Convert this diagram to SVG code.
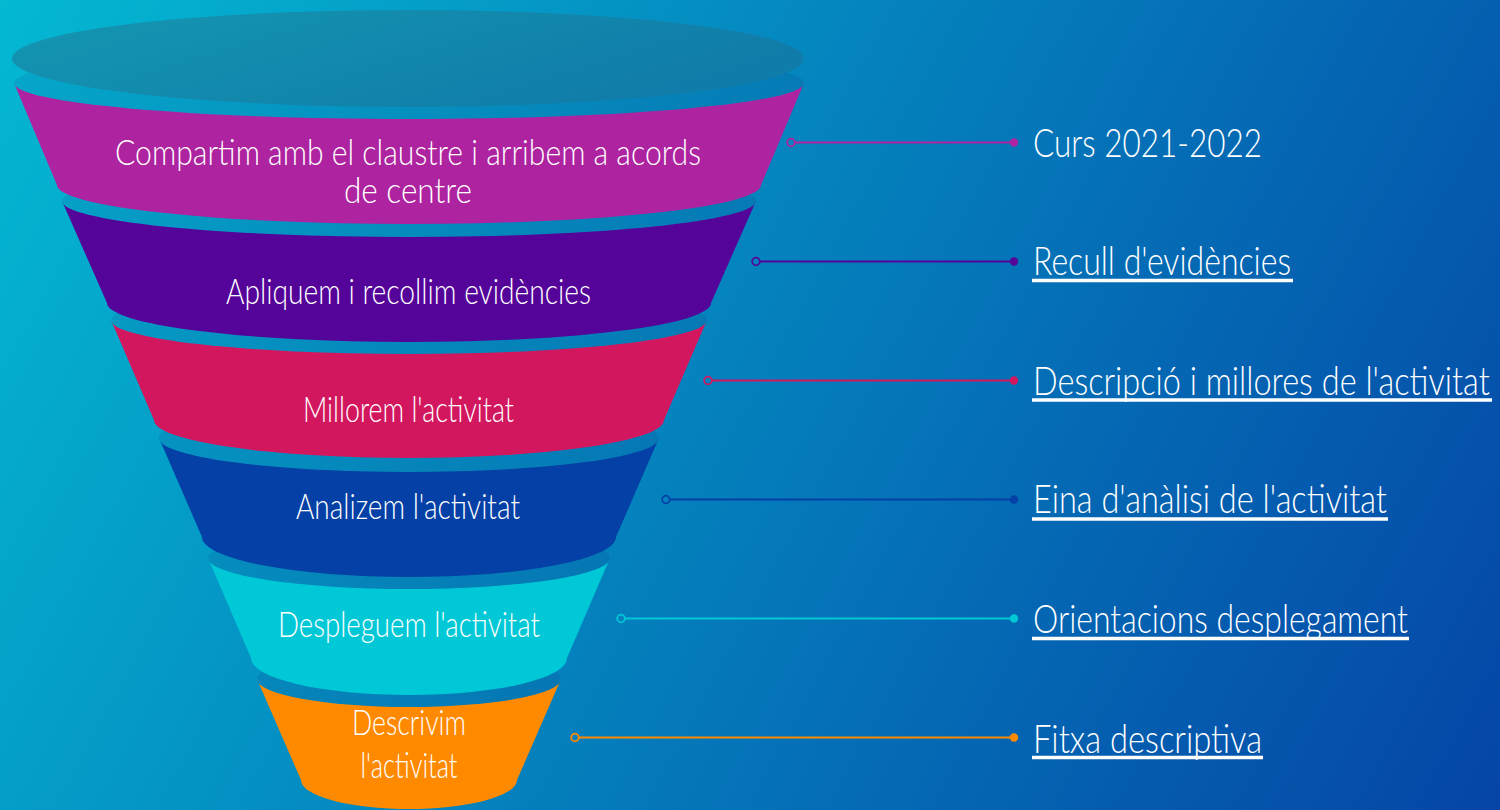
<svg xmlns="http://www.w3.org/2000/svg" width="1500" height="810" viewBox="0 0 1500 810">
  <defs>
    <linearGradient id="bg" gradientUnits="userSpaceOnUse" x1="0" y1="0" x2="1500" y2="810">
      <stop offset="0" stop-color="#04b8d2"/>
      <stop offset="1" stop-color="#0545a6"/>
    </linearGradient>
    <linearGradient id="rim" gradientUnits="userSpaceOnUse" x1="0" y1="0" x2="1500" y2="810">
      <stop offset="0" stop-color="#05a9cb"/>
      <stop offset="1" stop-color="#063f9a"/>
    </linearGradient>
    <linearGradient id="topEll" x1="0" y1="0" x2="1" y2="0.4">
      <stop offset="0" stop-color="#1497b1"/>
      <stop offset="1" stop-color="#107ca9"/>
    </linearGradient>
    <style>
      .rim { fill: url(#rim); }
      .ftxt { font-family: Lato, "Liberation Sans", sans-serif; font-weight: 300; font-size: 35px; fill: #ffffff; text-anchor: middle; }
      .rtxt { font-family: Lato, "Liberation Sans", sans-serif; font-weight: 300; font-size: 40px; fill: #ffffff; }
      .ul { stroke: #ffffff; stroke-width: 3.5; }
      .conn line { stroke-width: 2.2; }
      .open { fill: none; stroke-width: 1.8; }
    </style>
  </defs>

  <rect x="0" y="0" width="1500" height="810" fill="url(#bg)"/>

  <!-- funnel, drawn from bottom to top so upper bands overlap lower rims -->
  <g id="band6">
    <path d="M257,679 L561,679 L517,780 A108,29 0 0 1 301,780 Z" fill="#ff8a00"/>
    <ellipse class="rim" cx="409" cy="679" rx="152" ry="28"/>
    <text class="ftxt" x="409" y="735" textLength="114" lengthAdjust="spacingAndGlyphs">Descrivim</text>
    <text class="ftxt" x="409" y="778" textLength="97" lengthAdjust="spacingAndGlyphs">l'activitat</text>
  </g>
  <g id="band5">
    <path d="M208,558 L610,558 L567,658 A158,37 0 0 1 251,658 Z" fill="#00c8d7"/>
    <ellipse class="rim" cx="409" cy="558" rx="201" ry="31"/>
    <text class="ftxt" x="409" y="637" textLength="262" lengthAdjust="spacingAndGlyphs">Despleguem l'activitat</text>
  </g>
  <g id="band4">
    <path d="M159,438 L659,438 L616,537 A207,40 0 0 1 202,537 Z" fill="#0440a5"/>
    <ellipse class="rim" cx="409" cy="438" rx="250" ry="34"/>
    <text class="ftxt" x="408" y="519" textLength="224" lengthAdjust="spacingAndGlyphs">Analizem l'activitat</text>
  </g>
  <g id="band3">
    <path d="M111,320 L707,320 L664,420 A255,38 0 0 1 154,420 Z" fill="#d2175f"/>
    <ellipse class="rim" cx="409" cy="320" rx="298" ry="34"/>
    <text class="ftxt" x="408.5" y="422" textLength="211" lengthAdjust="spacingAndGlyphs">Millorem l'activitat</text>
  </g>
  <g id="band2">
    <path d="M62,201 L756,201 L711,303 A302,39 0 0 1 107,303 Z" fill="#55049a"/>
    <ellipse class="rim" cx="409" cy="201" rx="347" ry="36"/>
    <text class="ftxt" x="408.5" y="304" textLength="365" lengthAdjust="spacingAndGlyphs">Apliquem i recollim evidències</text>
  </g>
  <g id="band1">
    <path d="M14,83 L804,83 L761,185 A352,39 0 0 1 57,185 Z" fill="#ae23a0"/>
    <ellipse class="rim" cx="409" cy="83" rx="395" ry="36"/>
    <text class="ftxt" x="408" y="165" textLength="586" lengthAdjust="spacingAndGlyphs">Compartim amb el claustre i arribem a acords</text>
    <text class="ftxt" x="408" y="203" textLength="128" lengthAdjust="spacingAndGlyphs">de centre</text>
  </g>
  <g id="funnel-top">
    <ellipse cx="408" cy="58.5" rx="396" ry="48.5" fill="url(#topEll)"/>
  </g>

  <!-- connectors -->
  <g id="connectors" class="conn">
    <line x1="795" y1="142.5" x2="1014" y2="142.5" stroke="#ae23a0"/>
    <circle class="open" cx="791" cy="142.5" r="3.8" stroke="#ae23a0"/>
    <circle cx="1014" cy="142.5" r="4.2" fill="#ae23a0"/>

    <line x1="760" y1="261.5" x2="1014" y2="261.5" stroke="#55049a"/>
    <circle class="open" cx="756" cy="261.5" r="3.8" stroke="#55049a"/>
    <circle cx="1014" cy="261.5" r="4.2" fill="#55049a"/>

    <line x1="712" y1="380.5" x2="1014" y2="380.5" stroke="#d2175f"/>
    <circle class="open" cx="708" cy="380.5" r="3.8" stroke="#d2175f"/>
    <circle cx="1014" cy="380.5" r="4.2" fill="#d2175f"/>

    <line x1="670" y1="499.5" x2="1014" y2="499.5" stroke="#0440a5"/>
    <circle class="open" cx="666" cy="499.5" r="3.8" stroke="#0440a5"/>
    <circle cx="1014" cy="499.5" r="4.2" fill="#0440a5"/>

    <line x1="625" y1="618.5" x2="1014" y2="618.5" stroke="#00c8d7"/>
    <circle class="open" cx="621" cy="618.5" r="3.8" stroke="#00c8d7"/>
    <circle cx="1014" cy="618.5" r="4.2" fill="#00c8d7"/>

    <line x1="579" y1="737.5" x2="1014" y2="737.5" stroke="#ff8a00"/>
    <circle class="open" cx="575" cy="737.5" r="3.8" stroke="#ff8a00"/>
    <circle cx="1014" cy="737.5" r="4.2" fill="#ff8a00"/>
  </g>

  <!-- right-hand labels -->
  <g id="label1">
    <text class="rtxt" x="1033" y="157" textLength="229" lengthAdjust="spacingAndGlyphs">Curs 2021-2022</text>
  </g>
  <g id="label2">
    <text class="rtxt" x="1033" y="275" textLength="258" lengthAdjust="spacingAndGlyphs">Recull d'evidències</text>
    <line class="ul" x1="1032" y1="280.5" x2="1293" y2="280.5"/>
  </g>
  <g id="label3">
    <text class="rtxt" transform="translate(1033,395) scale(0.8,1)" x="0" y="0" textLength="571" lengthAdjust="spacingAndGlyphs">Descripció i millores de l'activitat</text>
    <line class="ul" x1="1032" y1="400" x2="1492" y2="400"/>
  </g>
  <g id="label4">
    <text class="rtxt" x="1033" y="513" textLength="354" lengthAdjust="spacingAndGlyphs">Eina d'anàlisi de l'activitat</text>
    <line class="ul" x1="1032" y1="519" x2="1388" y2="519"/>
  </g>
  <g id="label5">
    <text class="rtxt" x="1033" y="633" textLength="375" lengthAdjust="spacingAndGlyphs">Orientacions desplegament</text>
    <line class="ul" x1="1032" y1="638.5" x2="1409" y2="638.5"/>
  </g>
  <g id="label6">
    <text class="rtxt" x="1033" y="753" textLength="229" lengthAdjust="spacingAndGlyphs">Fitxa descriptiva</text>
    <line class="ul" x1="1032" y1="757.5" x2="1263" y2="757.5"/>
  </g>
</svg>
